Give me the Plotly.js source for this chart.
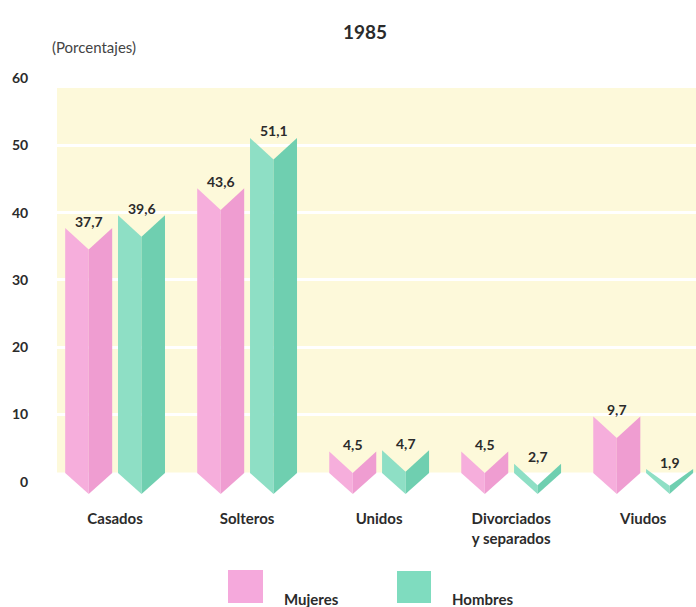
<!DOCTYPE html>
<html>
<head>
<meta charset="utf-8">
<script src="https://cdn.plot.ly/plotly-3.0.1.min.js"></script>
<style>html,body{margin:0;padding:0;background:#fff;}#chart{width:696px;height:607px;}</style>
</head>
<body>
<div id="chart"></div>
<script>
const categories = ['Casados', 'Solteros', 'Unidos', 'Divorciados<br>y separados', 'Viudos'];
const mujeres = [37.7, 43.6, 4.5, 4.5, 9.7];
const hombres = [39.6, 51.1, 4.7, 2.7, 1.9];
const seriesNames = ['Mujeres', 'Hombres'];
const yTickVals = [0, 10, 20, 30, 40, 50, 60];
const titleText = '1985';
const unitText = '(Porcentajes)';

const FONT = 'Lato, "Open Sans", sans-serif';
const TXT = '#2b2b2b';
const seriesData = [mujeres, hombres];
const lightCol = ['#f6aedc', '#8edfc5'];
const darkCol = ['#ef9dd1', '#6fcfb0'];
const offsets = [-0.2, 0.2];
const halfW = 0.178;

const traces = [];
const annotations = [];
seriesData.forEach((vals, s) => {
  vals.forEach((v, i) => {
    const xc = i + offsets[s];
    const xl = xc - halfW, xr = xc + halfW;
    const eb = Math.min(1.3, v - 0.4);
    const cb = -1.8;
    const ct = Math.max(v - 3.2, -0.6);
    traces.push({
      type: 'scatter', mode: 'lines', fill: 'toself',
      x: [xl, xl, xc, xc, xl], y: [eb, v, ct, cb, eb],
      fillcolor: lightCol[s], line: {width: 0, color: lightCol[s]},
      hoverinfo: 'skip', showlegend: false
    });
    traces.push({
      type: 'scatter', mode: 'lines', fill: 'toself',
      x: [xc, xc, xr, xr, xc], y: [cb, ct, v, eb, cb],
      fillcolor: darkCol[s], line: {width: 0, color: darkCol[s]},
      hoverinfo: 'skip', showlegend: false
    });
    annotations.push({
      xref: 'x', yref: 'y', x: xc, y: v, xanchor: 'center', yanchor: 'middle', yshift: 7,
      text: '<b>' + v.toFixed(1).replace('.', ',') + '</b>', showarrow: false,
      font: {family: FONT, size: 14, color: TXT}
    });
  });
});

// plot area geometry helpers (paper coords)
const plotTop = 78, plotBottom = 502, plotLeft = 57, plotRight = 696;
const py = p => (plotBottom - p) / (plotBottom - plotTop);
const px = p => (p - plotLeft) / (plotRight - plotLeft);

const shapes = [
  {type: 'rect', layer: 'below', xref: 'paper', yref: 'y', x0: 0, x1: 1, y0: 1.4, y1: 58.5,
   fillcolor: '#fdf9da', line: {width: 0}},
  {type: 'rect', xref: 'paper', yref: 'paper', x0: px(228), x1: px(263), y0: py(603), y1: py(570),
   fillcolor: '#f5a9dc', line: {width: 0}},
  {type: 'rect', xref: 'paper', yref: 'paper', x0: px(397), x1: px(431), y0: py(603), y1: py(571),
   fillcolor: '#7fdcbf', line: {width: 0}}
];

annotations.push(
  {xref: 'paper', yref: 'paper', x: px(50), y: py(47), xanchor: 'left', yanchor: 'middle',
   text: unitText, showarrow: false, font: {family: FONT, size: 15, color: '#444'}},
  {xref: 'paper', yref: 'paper', x: px(282), y: py(599), xanchor: 'left', yanchor: 'middle',
   text: '<b>' + seriesNames[0] + '</b>', showarrow: false, font: {family: FONT, size: 15, color: TXT}},
  {xref: 'paper', yref: 'paper', x: px(450), y: py(599), xanchor: 'left', yanchor: 'middle',
   text: '<b>' + seriesNames[1] + '</b>', showarrow: false, font: {family: FONT, size: 15, color: TXT}}
);

const layout = {
  width: 696, height: 607,
  margin: {l: plotLeft, r: 696 - plotRight, t: plotTop, b: 607 - plotBottom},
  paper_bgcolor: '#ffffff', plot_bgcolor: 'rgba(0,0,0,0)',
  showlegend: false,
  title: {text: '<b>' + titleText + '</b>', xref: 'container', yref: 'container',
          x: 365 / 696, y: 1 - 32 / 607, xanchor: 'center', yanchor: 'middle',
          font: {family: FONT, size: 19, color: TXT}},
  xaxis: {type: 'linear', range: [-0.44, 4.40], tickvals: [0, 1, 2, 3, 4], ticktext: categories,
          showgrid: false, zeroline: false, showline: false, ticks: '', ticklabelstandoff: 6,
          tickfont: {family: FONT, size: 15, color: TXT, weight: 700}, fixedrange: true},
  yaxis: {range: [-3, 60], tickvals: yTickVals, showgrid: true, gridcolor: '#ffffff', gridwidth: 3,
          zeroline: false, showline: false, ticks: 'outside', ticklen: 25, tickcolor: 'rgba(0,0,0,0)',
          tickfont: {family: FONT, size: 14, color: TXT, weight: 700}, fixedrange: true},
  shapes: shapes,
  annotations: annotations
};

Plotly.newPlot('chart', traces, layout, {displayModeBar: false, staticPlot: true});
</script>
</body>
</html>
